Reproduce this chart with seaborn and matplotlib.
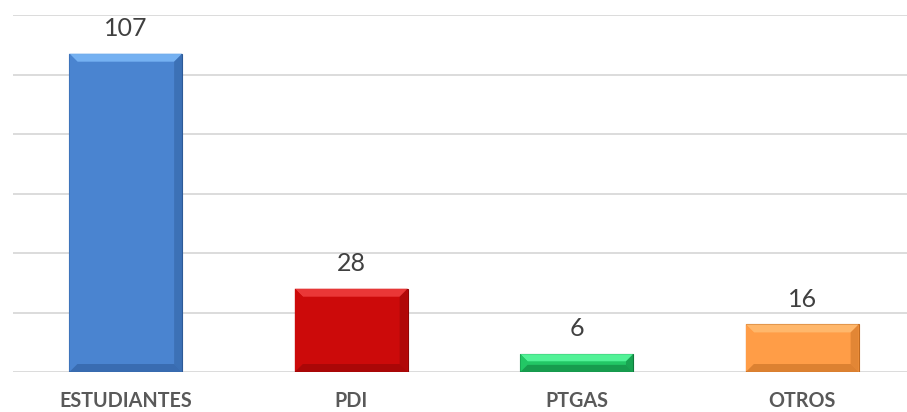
import matplotlib
matplotlib.use("Agg")
import matplotlib.pyplot as plt
from matplotlib.patches import Polygon
import seaborn as sns
import pandas as pd

categories = ["ESTUDIANTES", "PDI", "PTGAS", "OTROS"]
values = [107, 28, 6, 16]
face_colors = ["#4a84d0", "#cc0a0a", "#22c765", "#ff9d47"]
light_colors = ["#78b4f4", "#ec3a3a", "#55f59a", "#ffb96e"]
dark_colors = ["#2c5a98", "#8e0606", "#0f7a3c", "#c06a20"]

df = pd.DataFrame({"cat": categories, "val": values})

sns.set_theme(style="white")
plt.rcParams["font.family"] = ["Lato", "DejaVu Sans"]

W, H = 907, 412
fig = plt.figure(figsize=(W / 100, H / 100), dpi=100)
ax = fig.add_axes([13 / W, 40 / H, 902 / W, 357 / H])

sns.barplot(data=df, x="cat", y="val", hue="cat", palette=face_colors,
            width=0.5, legend=False, ax=ax, zorder=3, saturation=1)

ax.set_ylim(0, 120)
ax.set_xlim(-0.5, 3.5)
ax.set_yticks(range(0, 121, 20))
ax.yaxis.grid(True, color="#d9d9d9", linewidth=1.3, zorder=0)
ax.xaxis.grid(False)
for s in ax.spines.values():
    s.set_visible(False)
ax.tick_params(axis="y", left=False, labelleft=False)
ax.tick_params(axis="x", bottom=False, pad=8)
ax.set_xlabel("")
ax.set_ylabel("")
for lbl in ax.get_xticklabels():
    lbl.set_fontweight("bold")
    lbl.set_fontsize(14.2)
    lbl.set_color("#595959")

# bevelled look for each bar, built from the bar geometry in display pixels
fig.canvas.draw()
bev = 8
for i, bar in enumerate(ax.patches):
    x0, y0 = bar.get_x(), bar.get_y()
    x1, y1 = x0 + bar.get_width(), y0 + bar.get_height()
    (px0, py0), (px1, py1) = ax.transData.transform([(x0, y0), (x1, y1)])
    b = min(bev, (py1 - py0) / 2.5)
    bar.set_edgecolor(dark_colors[i])
    bar.set_linewidth(0.8)
    top = [(px0, py1), (px1, py1), (px1 - b, py1 - b), (px0 + b, py1 - b)]
    left = [(px0, py1), (px0 + b, py1 - b), (px0 + b, py0 + b), (px0, py0)]
    right = [(px1, py1), (px1 - b, py1 - b), (px1 - b, py0 + b), (px1, py0)]
    bottom = [(px0, py0), (px0 + b, py0 + b), (px1 - b, py0 + b), (px1, py0)]
    for pts, col, a in [(top, light_colors[i], 0.95), (left, face_colors[i], 1.0),
                        (right, dark_colors[i], 0.45), (bottom, dark_colors[i], 0.55)]:
        fig.patches.append(Polygon(pts, closed=True, transform=None,
                                   facecolor=col, alpha=a, edgecolor="none",
                                   zorder=5))
    ax.annotate(f"{values[i]}", xy=((x0 + x1) / 2, y1), xytext=(0, 10),
                textcoords="offset points", ha="center", va="bottom",
                fontsize=18, color="#404040", zorder=6)

fig.savefig("out.png", dpi=100)
